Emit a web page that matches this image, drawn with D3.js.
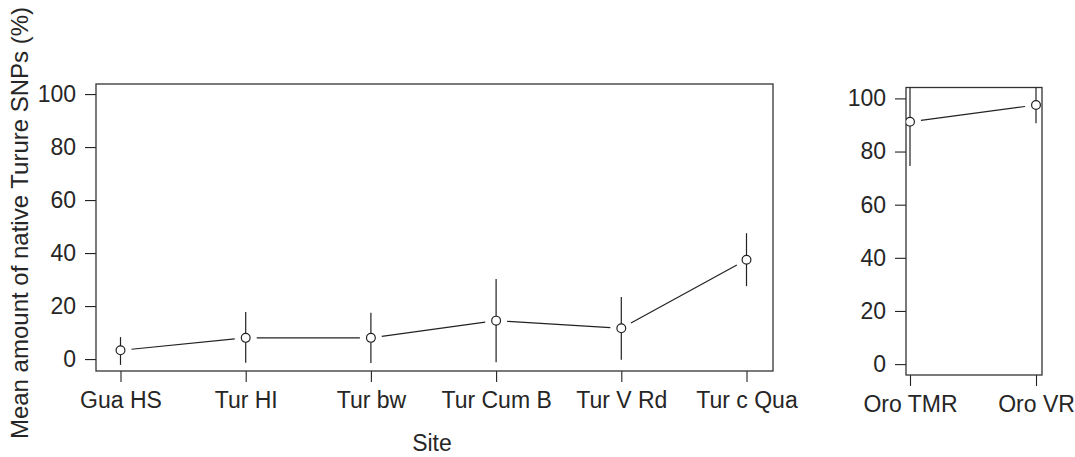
<!DOCTYPE html>
<html>
<head>
<meta charset="utf-8">
<script src="https://cdn.jsdelivr.net/npm/d3@7"></script>
<style>
  html, body { margin: 0; padding: 0; background: #fff; }
  svg text { font-family: "Liberation Sans", Arial, sans-serif; fill: #262626; }
</style>
</head>
<body>
<svg id="chart" width="1075" height="457"></svg>
<script>
// ---- data ----
const leftSites = ["Gua HS", "Tur HI", "Tur bw", "Tur Cum B", "Tur V Rd", "Tur c Qua"];
const leftMean  = [3.3, 8.0, 8.0, 14.5, 11.6, 37.5];
const leftLow   = [-2.2, -1.4, -1.5, -1.2, -0.3, 27.5];
const leftHigh  = [8.3, 17.8, 17.5, 30.2, 23.4, 47.5];

const rightSites = ["Oro TMR", "Oro VR"];
const rightMean  = [91.2, 97.5];
const rightLow   = [74.6, 90.6];
const rightHigh  = [107.8, 104.4];

const yTicks = [0, 20, 40, 60, 80, 100];
const yTitle = "Mean amount of native Turure SNPs (%)";
const xTitle = "Site";

// ---- drawing ----
const svg = d3.select("#chart");
const ink = "#222";
const fontSize = 23;

function panel(cfg) {
  const { sites, mean, low, high, x0, x1, y0, y1, yDomain, xRange, id } = cfg;
  const g = svg.append("g");
  const y = d3.scaleLinear().domain(yDomain).range([y1, y0]);
  const x = d3.scalePoint().domain(sites).range(xRange);

  svg.append("clipPath").attr("id", id)
    .append("rect").attr("x", x0).attr("y", y0).attr("width", x1 - x0).attr("height", y1 - y0);

  // y axis
  const ya = g.append("g").attr("transform", `translate(${x0},0)`)
    .call(d3.axisLeft(y).tickValues(yTicks).tickSize(11).tickPadding(9).tickFormat(d3.format("d")));
  ya.attr("font-family", null).attr("font-size", null);
  ya.select(".domain").remove();
  ya.selectAll("line").attr("stroke", ink).attr("stroke-width", 1.1);
  ya.selectAll("text").attr("font-size", fontSize).attr("fill", "#262626");

  // x axis
  const xa = g.append("g").attr("transform", `translate(0,${y1})`)
    .call(d3.axisBottom(x).tickSize(11).tickPadding(10));
  xa.attr("font-family", null).attr("font-size", null);
  xa.select(".domain").remove();
  xa.selectAll("line").attr("stroke", ink).attr("stroke-width", 1.1);
  xa.selectAll("text").attr("font-size", fontSize).attr("fill", "#262626");

  // frame
  g.append("rect").attr("x", x0).attr("y", y0).attr("width", x1 - x0).attr("height", y1 - y0)
    .attr("fill", "none").attr("stroke", "#333").attr("stroke-width", 1.3);

  const pts = sites.map((s, i) => ({ s, m: mean[i], lo: low[i], hi: high[i] }));
  const pg = g.append("g").attr("clip-path", `url(#${id})`);

  // connecting segments with gaps (type = "b")
  const gap = 11;
  for (let i = 0; i < pts.length - 1; i++) {
    const ax = x(pts[i].s), ay = y(pts[i].m), bx = x(pts[i + 1].s), by = y(pts[i + 1].m);
    const dx = bx - ax, dy = by - ay, L = Math.hypot(dx, dy);
    const ux = dx / L, uy = dy / L;
    pg.append("line")
      .attr("x1", ax + ux * gap).attr("y1", ay + uy * gap)
      .attr("x2", bx - ux * gap).attr("y2", by - uy * gap)
      .attr("stroke", ink).attr("stroke-width", 1.2);
  }

  // error bars
  pg.selectAll(".eb").data(pts).enter().append("line")
    .attr("x1", d => x(d.s)).attr("x2", d => x(d.s))
    .attr("y1", d => y(d.lo)).attr("y2", d => y(d.hi))
    .attr("stroke", ink).attr("stroke-width", 1.2);

  // points
  pg.selectAll(".pt").data(pts).enter().append("circle")
    .attr("cx", d => x(d.s)).attr("cy", d => y(d.m)).attr("r", 4.4)
    .attr("fill", "#fff").attr("stroke", ink).attr("stroke-width", 1.2);
}

panel({ id: "clipL", sites: leftSites, mean: leftMean, low: leftLow, high: leftHigh,
  x0: 96, x1: 773, y0: 84, y1: 371, yDomain: [-4.5, 103.8], xRange: [120.5, 746.5] });

panel({ id: "clipR", sites: rightSites, mean: rightMean, low: rightLow, high: rightHigh,
  x0: 906, x1: 1042, y0: 87.5, y1: 375, yDomain: [-4.1, 104.1], xRange: [910, 1036] });

// titles
svg.append("text").attr("transform", "translate(28,223) rotate(-90)")
  .attr("text-anchor", "middle").attr("font-size", 24).text(yTitle);
svg.append("text").attr("x", 432).attr("y", 451)
  .attr("text-anchor", "middle").attr("font-size", 23).text(xTitle);
</script>
</body>
</html>
